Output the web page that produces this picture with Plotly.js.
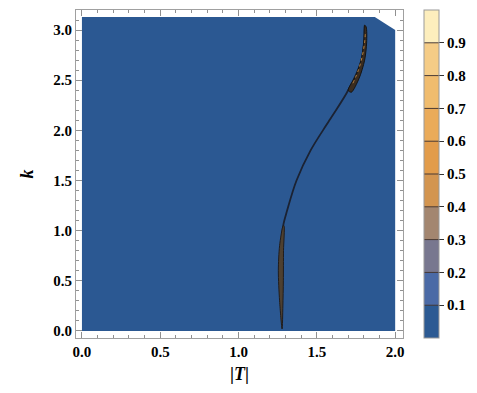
<!DOCTYPE html>
<html>
<head>
<meta charset="utf-8">
<script src="https://cdn.plot.ly/plotly-3.0.1.min.js"></script>
<style>
  html, body { margin: 0; padding: 0; background: #fff; }
  #chart { width: 477px; height: 393px; }
</style>
</head>
<body>
<div id="chart"></div>
<script>
// domain of the plot (blue region), |T| vs k
const domainT = [0, 2.0, 2.0, 1.87, 0, 0];
const domainK = [0, 0, 3.0, 3.13, 3.13, 0];

// thin ridge where the density is high
const ridgeT = [1.278, 1.285, 1.31, 1.37, 1.46, 1.58, 1.70, 1.785, 1.807];
const ridgeK = [0.9, 1.05, 1.2, 1.5, 1.8, 2.1, 2.4, 2.7, 3.04];

// lower crescent outline (left edge going up, right edge coming down)
const lowT = [1.278, 1.262, 1.254, 1.262, 1.285, 1.29, 1.287, 1.286, 1.283, 1.278];
const lowK = [0.02, 0.3, 0.6, 0.85, 1.05, 1.05, 0.8, 0.5, 0.25, 0.02];

// upper crescent outline
const upT = [1.70, 1.75, 1.785, 1.80, 1.805, 1.815, 1.818, 1.805, 1.77, 1.72, 1.70];
const upK = [2.40, 2.55, 2.72, 2.90, 3.05, 3.03, 2.88, 2.70, 2.52, 2.38, 2.40];

// brighter core inside the upper crescent
const coreT = [1.73, 1.765, 1.79, 1.805, 1.81];
const coreK = [2.47, 2.60, 2.74, 2.88, 2.98];

// colour legend bands
const bandColors = ['#2c5a93', '#4b6aa6', '#78778f', '#a38670', '#d39550',
                    '#e29c4b', '#eaab5a', '#f0bc6e', '#f5cc86', '#fdeebd'];
const barTicks = [0.1, 0.2, 0.3, 0.4, 0.5, 0.6, 0.7, 0.8, 0.9];
const xTicks = [0, 0.5, 1.0, 1.5, 2.0];
const yTicks = [0, 0.5, 1.0, 1.5, 2.0, 2.5, 3.0];

const blue = '#2b5892';

// stepped colour scale with thin dark separators
const colorscale = [];
bandColors.forEach((c, i) => {
  const lo = i / 10, hi = (i + 1) / 10;
  if (i > 0) {
    colorscale.push([lo, 'rgb(70,55,50)']);
    colorscale.push([lo + 0.003, c]);
  } else {
    colorscale.push([lo, c]);
  }
  colorscale.push([i === 9 ? hi : hi - 0.003, c]);
});

const bold = v => '<b>' + v.toFixed(1) + '</b>';
const tickFont = { family: 'Liberation Serif, Times New Roman, serif', size: 15, color: '#000' };
const titleFont = { family: 'Liberation Serif, Times New Roman, serif', size: 18, color: '#000' };

const traces = [
  {
    x: domainT, y: domainK, type: 'scatter', mode: 'lines',
    fill: 'toself', fillcolor: blue, line: { color: blue, width: 0 },
    hoverinfo: 'skip', showlegend: false
  },
  {
    x: ridgeT, y: ridgeK, type: 'scatter', mode: 'lines',
    line: { color: '#1b2232', width: 1.8, shape: 'spline', smoothing: 1 },
    hoverinfo: 'skip', showlegend: false
  },
  {
    x: lowT, y: lowK, type: 'scatter', mode: 'lines',
    fill: 'toself', fillcolor: '#4e4030',
    line: { color: '#201c1c', width: 1, shape: 'spline', smoothing: 0.8 },
    hoverinfo: 'skip', showlegend: false
  },
  {
    x: upT, y: upK, type: 'scatter', mode: 'lines',
    fill: 'toself', fillcolor: '#3a2c20',
    line: { color: '#141414', width: 1, shape: 'spline', smoothing: 0.8 },
    hoverinfo: 'skip', showlegend: false
  },
  {
    x: coreT, y: coreK, type: 'scatter', mode: 'lines',
    line: { color: '#b8823e', width: 1, shape: 'spline', dash: 'dot' },
    hoverinfo: 'skip', showlegend: false
  },
  {
    x: [-5], y: [-5], type: 'scatter', mode: 'markers',
    marker: {
      color: [0], cmin: 0, cmax: 1, colorscale: colorscale, showscale: true,
      colorbar: {
        x: 1.065, xanchor: 'left', xpad: 0, y: 0.5, len: 1.0, ypad: 0,
        thickness: 15, outlinecolor: '#999', outlinewidth: 1,
        tickvals: barTicks, ticktext: barTicks.map(bold),
        ticks: 'outside', ticklen: 5, tickcolor: '#333',
        tickfont: tickFont
      }
    },
    hoverinfo: 'skip', showlegend: false
  }
];

const axisCommon = {
  showgrid: false, zeroline: false,
  showline: true, linecolor: '#a0a0a0', linewidth: 1, mirror: 'ticks',
  ticks: 'inside', ticklen: 6, tickcolor: '#909090', tickwidth: 1,
  minor: { dtick: 0.1, ticks: 'inside', ticklen: 3, tickcolor: '#909090' },
  tickfont: tickFont
};

const layout = {
  width: 477, height: 393,
  margin: { l: 76, r: 72, t: 10, b: 55 },
  paper_bgcolor: '#fff', plot_bgcolor: '#fff',
  xaxis: Object.assign({}, axisCommon, {
    range: [-0.038, 2.05],
    tickvals: xTicks, ticktext: xTicks.map(bold),
    title: { text: '<b>|<i>T</i>|</b>', font: titleFont, standoff: 8 }
  }),
  yaxis: Object.assign({}, axisCommon, {
    range: [-0.07, 3.2],
    tickvals: yTicks, ticktext: yTicks.map(bold),
    title: { text: '<b><i>k</i></b>', font: titleFont, standoff: 14 }
  })
};

Plotly.newPlot('chart', traces, layout, { displayModeBar: false, staticPlot: true });
</script>
</body>
</html>
